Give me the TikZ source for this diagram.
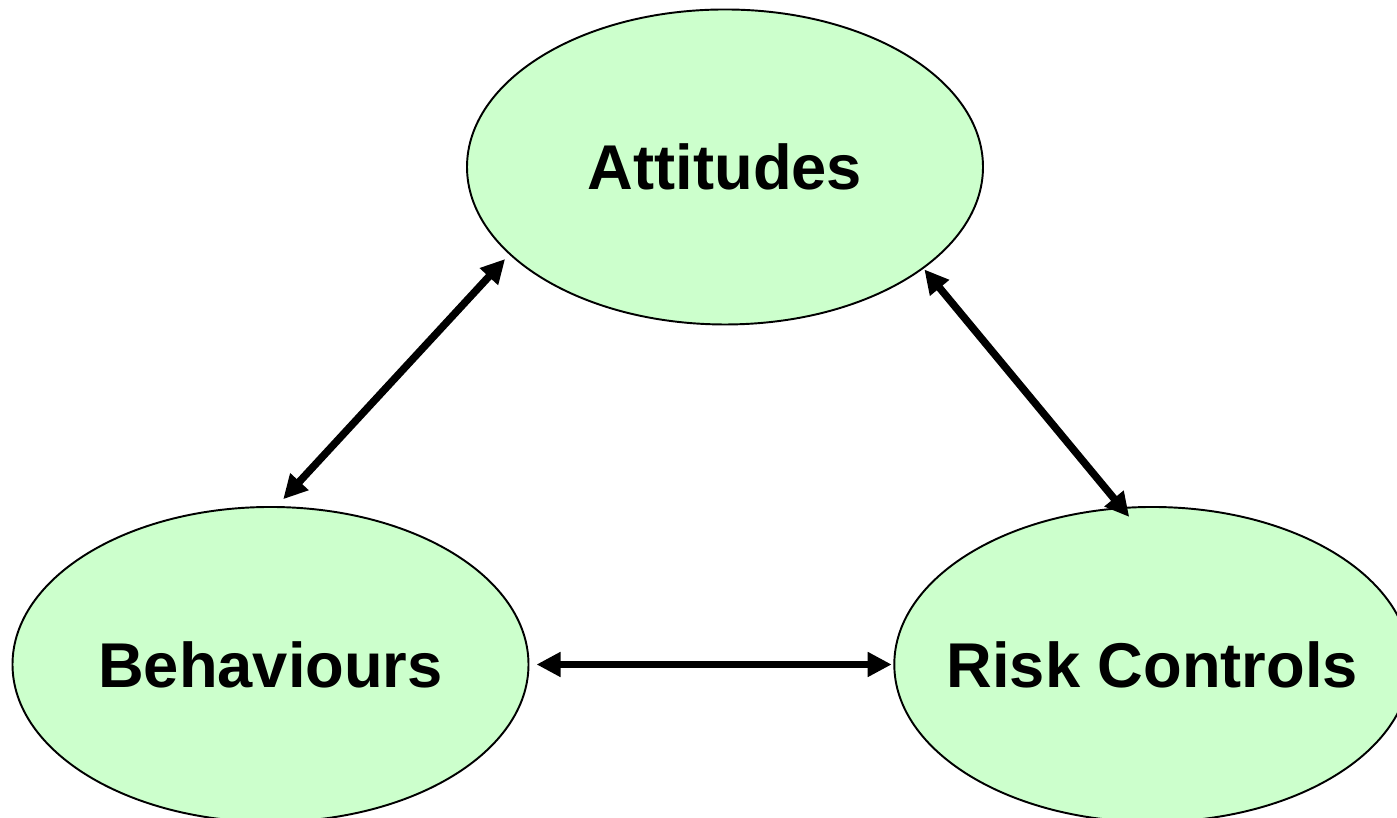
\documentclass[tikz,border=0pt]{standalone}
\usepackage{fontspec}
\setmainfont{Liberation Sans}
\usepackage[dvipsnames]{xcolor}
\usepackage{tikz}
\usetikzlibrary{%
	shapes.geometric,%
	arrows.meta%
}
\definecolor{paleGreen}{HTML}{CCFFCC}

\begin{document}
\begin{tikzpicture}[
	blob/.style={ellipse,draw,line width=0.55pt,fill=paleGreen,minimum width=5.16cm,minimum height=3.15cm,inner sep=0pt,outer sep=0pt},
	tag/.style={font=\fontsize{18}{22}\selectfont\bfseries,inner sep=0pt},
	link/.style={line width=0.075cm,{Triangle[length=0.24cm,width=0.235cm]}-{Triangle[length=0.24cm,width=0.235cm]}}
]
% Frame
\useasboundingbox (0,0) rectangle (13.97,8.18);
\clip (0,0) rectangle (13.97,8.18);

% Ellipses
\node [blob,label={[tag]center:Attitudes}] (att) at (7.25,6.51) {};
\node [blob,label={[tag]center:Behaviours}] (beh) at (2.705,1.535) {};
\node [blob,label={[tag]center:Risk Controls}] (risk) at (11.523,1.535) {};

% Arrows
\draw [link,shorten <=0.07cm,shorten >=0.106cm] (att.202.55) -- (beh.88.6);
\draw [link,shorten <=0.02cm,shorten >=-0.115cm] (att.333.45) -- (risk.101.07);
\draw [link,shorten <=0.08cm,shorten >=0.026cm] (beh.-0.8) -- (risk.180.8);
\end{tikzpicture}
\end{document}
